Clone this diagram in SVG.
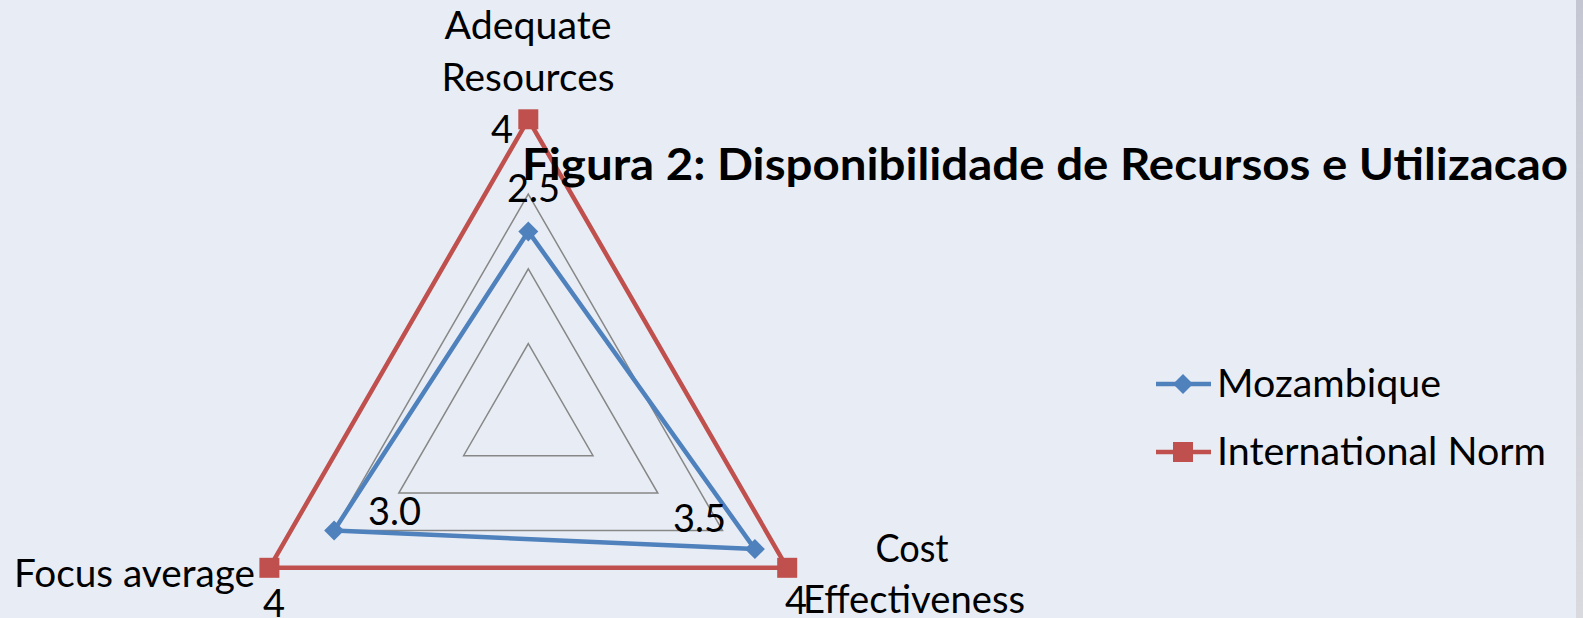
<svg xmlns="http://www.w3.org/2000/svg" width="1583" height="618" viewBox="0 0 1583 618">
  <defs>
    <linearGradient id="edge" x1="0" y1="0" x2="0" y2="1">
      <stop offset="0" stop-color="#C4C7D2"/>
      <stop offset="1" stop-color="#D9DADF"/>
    </linearGradient>
    <style>
      text { font-family: Lato, "Liberation Sans", sans-serif; fill: #000; font-size: 38px; }
      .title { font-weight: bold; font-size: 43px; }
      .grid { fill: none; stroke: #878787; stroke-width: 1.5; }
      .norm { fill: none; stroke: #C0504D; stroke-width: 4.5; stroke-linejoin: round; }
      .moz { fill: none; stroke: #4F81BD; stroke-width: 4.5; stroke-linejoin: round; }
      .sq { fill: #C0504D; }
      .dm { fill: #4F81BD; }
    </style>
  </defs>
  <rect x="0" y="0" width="1583" height="618" fill="#E8EDF5"/>
  <rect x="1576" y="0" width="7" height="618" fill="url(#edge)"/>

  <g id="grid">
    <polygon class="grid" points="528.3,343.6 593.0,455.7 463.6,455.7"/>
    <polygon class="grid" points="528.3,268.8 657.8,493.1 398.8,493.1"/>
    <polygon class="grid" points="528.3,194.1 722.5,530.4 334.1,530.4"/>
  </g>

  <g id="connectors">
    <polygon id="series-norm" class="norm" points="528.3,119.3 787.2,567.8 269.4,567.8"/>
    <polygon id="series-moz" class="moz" points="528.3,231.4 754.9,549.1 334.1,530.4"/>
  </g>

  <g id="node-norm-top"><rect class="sq" x="518.3" y="109.3" width="20" height="20"/><text x="491" y="143">4</text></g>
  <g id="node-norm-right"><rect class="sq" x="777.2" y="557.8" width="20" height="20"/><text x="785" y="614">4</text></g>
  <g id="node-norm-left"><rect class="sq" x="259.4" y="557.8" width="20" height="20"/><text x="263" y="617">4</text></g>

  <g id="node-moz-top"><polygon class="dm" points="528.3,221.4 538.3,231.4 528.3,241.4 518.3,231.4"/><text x="507" y="202">2.5</text></g>
  <g id="node-moz-right"><polygon class="dm" points="754.9,539.1 764.9,549.1 754.9,559.1 744.9,549.1"/><text x="673" y="532">3.5</text></g>
  <g id="node-moz-left"><polygon class="dm" points="334.1,520.4 344.1,530.4 334.1,540.4 324.1,530.4"/><text x="368" y="525">3.0</text></g>

  <g id="axis-labels">
    <text x="528" y="39" text-anchor="middle" textLength="167" lengthAdjust="spacingAndGlyphs">Adequate</text>
    <text x="528" y="91" text-anchor="middle" textLength="173" lengthAdjust="spacingAndGlyphs">Resources</text>
    <text x="912" y="562" text-anchor="middle" textLength="73" lengthAdjust="spacingAndGlyphs">Cost</text>
    <text x="914" y="613" text-anchor="middle" textLength="222" lengthAdjust="spacingAndGlyphs">Effectiveness</text>
    <text x="14" y="587" textLength="241" lengthAdjust="spacingAndGlyphs">Focus average</text>
  </g>

  <g id="title">
    <text class="title" x="522" y="180" textLength="1046" lengthAdjust="spacingAndGlyphs">Figura 2: Disponibilidade de Recursos e Utilizacao</text>
  </g>

  <g id="legend">
    <g id="legend-moz">
      <line x1="1156" y1="384" x2="1211" y2="384" stroke="#4F81BD" stroke-width="4.5"/>
      <polygon class="dm" points="1183,374 1193,384 1183,394 1173,384"/>
      <text x="1217" y="397" textLength="224" lengthAdjust="spacingAndGlyphs">Mozambique</text>
    </g>
    <g id="legend-norm">
      <line x1="1156" y1="452" x2="1211" y2="452" stroke="#C0504D" stroke-width="4.5"/>
      <rect class="sq" x="1173" y="442" width="20" height="20"/>
      <text x="1217" y="465" textLength="329" lengthAdjust="spacingAndGlyphs">International Norm</text>
    </g>
  </g>
</svg>
